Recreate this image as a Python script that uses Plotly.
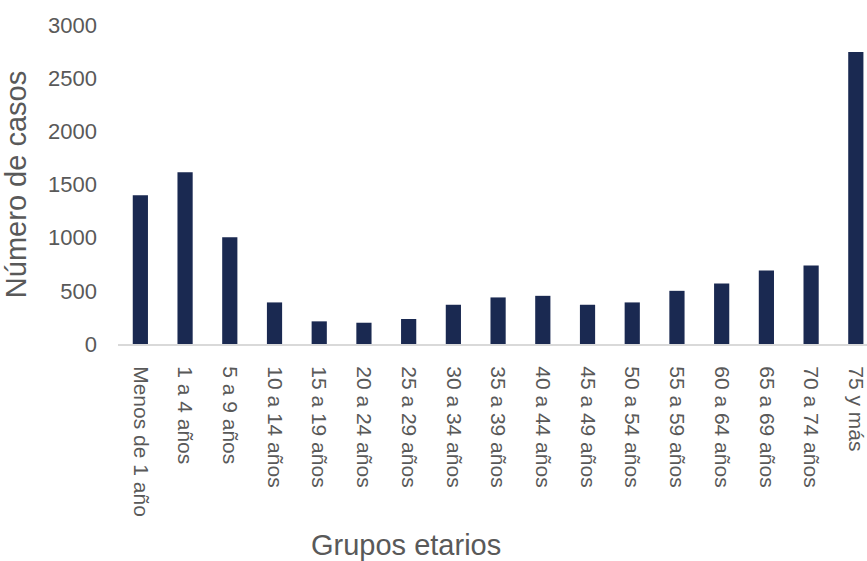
import plotly.graph_objects as go

grupos = ["Menos de 1 año", "1 a 4 años", "5 a 9 años", "10 a 14 años", "15 a 19 años",
          "20 a 24 años", "25 a 29 años", "30 a 34 años", "35 a 39 años", "40 a 44 años",
          "45 a 49 años", "50 a 54 años", "55 a 59 años", "60 a 64 años", "65 a 69 años",
          "70 a 74 años", "75 y más"]
casos = [1400, 1616, 1004, 391, 213, 200, 235, 369, 438, 453, 369, 391, 500, 569, 691, 738, 2746]
y_ticks = [0, 500, 1000, 1500, 2000, 2500, 3000]

gris = "#595959"
fuente = "Liberation Sans, Arial, sans-serif"

fig = go.Figure()
fig.add_trace(go.Bar(x=list(range(len(grupos))), y=casos, width=0.34,
                     marker=dict(color="#1a2951", line=dict(width=0))))

fig.update_layout(template=None, width=867, height=561, showlegend=False,
                  paper_bgcolor="white", plot_bgcolor="white",
                  margin=dict(l=118, r=0, t=25, b=217),
                  font=dict(family=fuente, color=gris))
fig.update_xaxes(range=[-0.5, 16.25], tickmode="array", tickvals=list(range(len(grupos))),
                 ticktext=grupos, tickangle=90, tickfont=dict(size=21, color=gris),
                 ticks="", ticklabelstandoff=16, ticklabeloverflow="allow",
                 showgrid=False, zeroline=False,
                 showline=True, linecolor="#d9d9d9", linewidth=2, automargin=False)
fig.update_yaxes(range=[0, 3000], tickmode="array", tickvals=y_ticks,
                 tickfont=dict(size=22, color=gris), ticks="", ticklabelstandoff=20,
                 showgrid=False, zeroline=False, showline=False, automargin=False,
                 title=dict(text="Número de casos", font=dict(size=29, color=gris), standoff=12))
fig.add_annotation(text="Grupos etarios", xref="paper", yref="paper", x=0.385, y=0,
                   xanchor="center", yanchor="middle", yshift=-201, showarrow=False,
                   font=dict(size=29, color=gris))

# sin el margen del body la figura ocupa justo la ventana
fig.write_html("out.html", config={"displayModeBar": False},
               post_script="document.body.style.margin='0';")
